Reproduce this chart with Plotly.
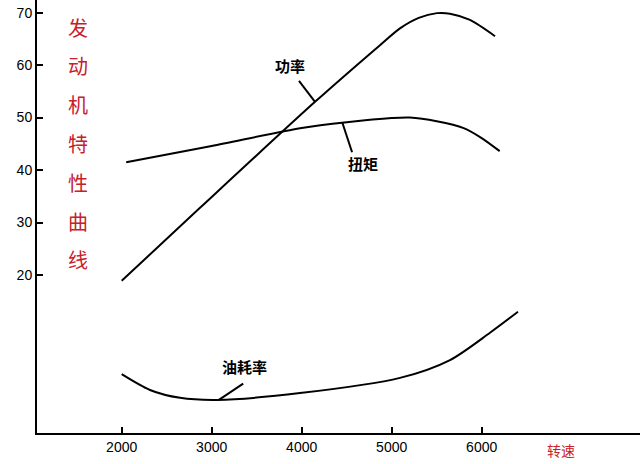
import plotly.graph_objects as go

# Data (x: rpm)
power_rpm = [2000, 2870, 4148, 4870, 5092, 5300, 5503, 5648, 5870, 6148]
power_val = [18.9, 32.8, 53.0, 63.8, 67.0, 69.0, 69.9, 69.8, 68.6, 65.5]

torque_rpm = [2050, 3000, 4000, 4500, 5000, 5200, 5500, 5800, 6000, 6200]
torque_val = [41.5, 44.6, 48.0, 49.1, 49.9, 50.0, 49.3, 48.0, 46.1, 43.6]

fuel_rpm = [2000, 2314, 2648, 3059, 3981, 5092, 5648, 6092, 6403]
fuel_val = [1.1, -1.9, -3.4, -3.8, -2.5, 0.4, 3.8, 9.0, 13.0]

x_ticks = [2000, 3000, 4000, 5000, 6000]
y_ticks = [20, 30, 40, 50, 60, 70]

title_chars = "发动机特性曲线"
x_title = "转速"

# label: (text, text_x, text_y, pointer_from, pointer_to)
labels = [
    ("功率", 3870, 60.0, (3970, 57.0), (4148, 53.0)),
    ("扭矩", 4681, 41.3, (4560, 43.4), (4452, 49.0)),
    ("油耗率", 3364, 2.5, (3350, -0.7), (3080, -3.8)),
]

fig = go.Figure()
line_style = dict(color="black", width=2, shape="spline", smoothing=0.8)
fig.add_trace(go.Scatter(x=power_rpm, y=power_val, mode="lines", line=line_style))
fig.add_trace(go.Scatter(x=torque_rpm, y=torque_val, mode="lines", line=line_style))
fig.add_trace(go.Scatter(x=fuel_rpm, y=fuel_val, mode="lines", line=line_style))

annotations = []
for text, tx, ty, p0, p1 in labels:
    fig.add_trace(go.Scatter(x=[p0[0], p1[0]], y=[p0[1], p1[1]], mode="lines",
                             line=dict(color="black", width=2)))
    annotations.append(dict(x=tx, y=ty, text="<b>" + text + "</b>", showarrow=False,
                            xanchor="center", yanchor="middle",
                            font=dict(family="Noto Sans CJK SC", size=15, color="black")))

# vertical red title
for i, ch in enumerate(title_chars):
    annotations.append(dict(xref="paper", yref="paper", x=0.068, y=0.9376 - i * 0.0896,
                            text=ch, showarrow=False, xanchor="center", yanchor="middle",
                            font=dict(family="Noto Sans CJK SC", size=20, color="#c8202a")))
annotations.append(dict(xref="x", yref="paper", x=6881, y=-0.039, text=x_title,
                        showarrow=False, xanchor="center", yanchor="middle",
                        font=dict(family="Noto Sans CJK SC", size=14, color="#c8202a")))

fig.update_layout(
    width=640, height=464,
    margin=dict(l=37, r=0, t=0, b=31),
    paper_bgcolor="white", plot_bgcolor="white",
    showlegend=False,
    annotations=annotations,
    xaxis=dict(range=[1059, 7759], tickvals=x_ticks, ticktext=[str(v) for v in x_ticks],
               showgrid=False, zeroline=False, showline=True, linecolor="black", linewidth=2,
               ticks="inside", ticklen=6, tickwidth=2, tickcolor="black",
               tickfont=dict(family="Liberation Sans Narrow, Liberation Sans", size=14, color="black")),
    yaxis=dict(range=[-10.1, 72.4], tickvals=y_ticks, ticktext=[str(v) for v in y_ticks],
               showgrid=False, zeroline=False, showline=True, linecolor="black", linewidth=2,
               ticks="inside", ticklen=6, tickwidth=2, tickcolor="black",
               tickfont=dict(family="Liberation Sans Narrow, Liberation Sans", size=14, color="black")),
)

fig.write_html("out.html", config={"displayModeBar": False},
               post_script="document.body.style.margin='0px';")
